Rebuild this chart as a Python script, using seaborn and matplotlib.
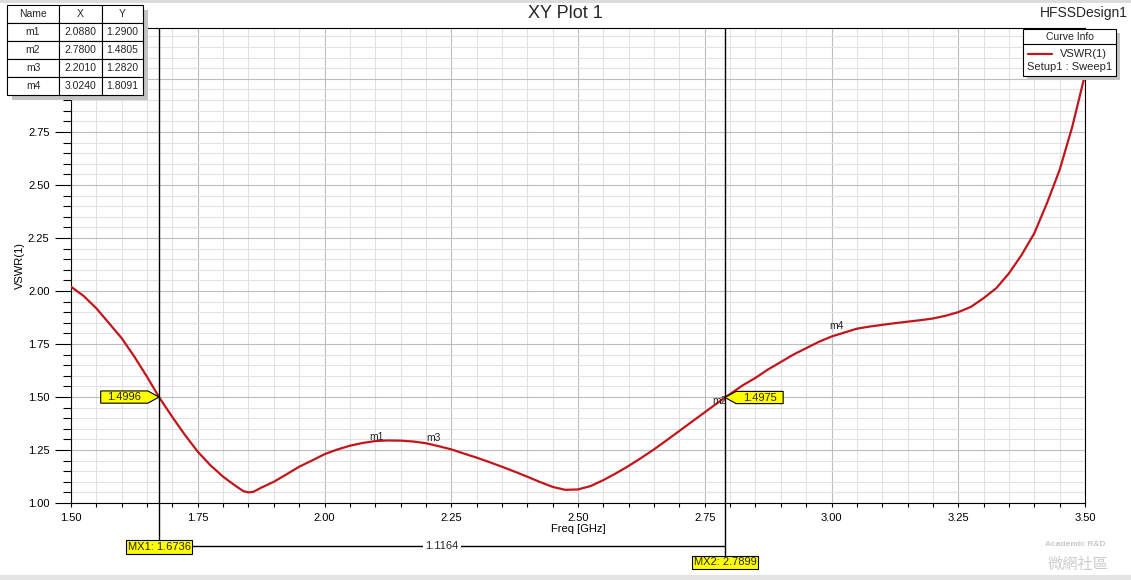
import matplotlib
matplotlib.use("Agg")
import matplotlib.pyplot as plt
import pandas as pd
import seaborn as sns
from matplotlib.path import Path
from matplotlib.patches import Rectangle
from matplotlib.lines import Line2D
from matplotlib.ticker import MultipleLocator, FormatStrFormatter

# curve
freq = [1.50, 1.525, 1.55, 1.575, 1.60, 1.625, 1.65, 1.6736, 1.70, 1.725, 1.75,
        1.775, 1.80, 1.825, 1.84, 1.85, 1.86, 1.875, 1.90, 1.925, 1.95, 1.975,
        2.00, 2.025, 2.05, 2.075, 2.10, 2.125, 2.15, 2.175, 2.20, 2.225, 2.25,
        2.275, 2.30, 2.325, 2.35, 2.375, 2.40, 2.425, 2.45, 2.475, 2.50, 2.525,
        2.55, 2.575, 2.60, 2.625, 2.65, 2.675, 2.70, 2.725, 2.75, 2.7899, 2.825,
        2.85, 2.875, 2.90, 2.925, 2.95, 2.975, 3.00, 3.05, 3.075, 3.10, 3.125,
        3.15, 3.175, 3.20, 3.225, 3.25, 3.275, 3.30, 3.325, 3.35, 3.375, 3.40,
        3.425, 3.45, 3.475, 3.50]
vswr = [2.02, 1.976, 1.918, 1.848, 1.777, 1.69, 1.595, 1.4996, 1.405, 1.32, 1.242,
        1.178, 1.124, 1.08, 1.056, 1.05, 1.053, 1.072, 1.10, 1.135, 1.171, 1.20,
        1.23, 1.252, 1.27, 1.283, 1.292, 1.295, 1.294, 1.29, 1.282, 1.268, 1.253,
        1.233, 1.214, 1.193, 1.171, 1.148, 1.124, 1.099, 1.076, 1.062, 1.064, 1.08,
        1.108, 1.14, 1.175, 1.213, 1.253, 1.296, 1.34, 1.384, 1.428, 1.4975, 1.555,
        1.59, 1.63, 1.665, 1.70, 1.73, 1.76, 1.785, 1.822, 1.832, 1.84, 1.848,
        1.855, 1.862, 1.87, 1.883, 1.90, 1.925, 1.966, 2.013, 2.083, 2.17, 2.272,
        2.414, 2.571, 2.775, 3.02]

marker_names = ["m1", "m2", "m3", "m4"]
marker_x = [2.0880, 2.7800, 2.2010, 3.0240]
marker_y = [1.2900, 1.4805, 1.2820, 1.8091]

mx_names = ["MX1", "MX2"]
mx_x = [1.6736, 2.7899]
mx_y = [1.4996, 1.4975]
mx_delta = 1.1164

sns.set_theme(style="white")
plt.rcParams["font.family"] = ["Liberation Sans", "DejaVu Sans"]

df = pd.DataFrame({"Freq [GHz]": freq, "VSWR(1)": vswr})

W, H = 1131, 580
def fx(px):
    return px / W
def fy(py):
    return 1 - py / H

fig = plt.figure(figsize=(W / 100, H / 100), dpi=100)
fig.patch.set_facecolor("white")
ax = fig.add_axes([fx(71), fy(503), 1014 / W, 475 / H])

sns.lineplot(data=df, x="Freq [GHz]", y="VSWR(1)", ax=ax, color="#c0161c",
             lw=1.6, legend=False, zorder=4)

ax.set_xlim(1.5, 3.5)
ax.set_ylim(1.0, 3.24)
ax.xaxis.set_major_locator(MultipleLocator(0.25))
ax.xaxis.set_minor_locator(MultipleLocator(0.05))
ax.yaxis.set_major_locator(MultipleLocator(0.25))
ax.yaxis.set_minor_locator(MultipleLocator(0.05))
ax.xaxis.set_major_formatter(FormatStrFormatter("%.2f"))
ax.yaxis.set_major_formatter(FormatStrFormatter("%.2f"))
ax.grid(which="major", color="#bdbdbd", lw=0.8)
ax.grid(which="minor", color="#e2e2e2", lw=0.8)
ax.set_axisbelow(True)
for s in ax.spines.values():
    s.set_color("black")
    s.set_linewidth(0.8)

ax.tick_params(axis="y", which="major", left=True, length=11.5, width=0.8,
               pad=4, labelsize=8, color="black", labelcolor="black")
ax.tick_params(axis="y", which="minor", left=True, length=5.8, width=0.8, color="black")
ax.tick_params(axis="x", which="both", bottom=True, length=3, width=0.8,
               pad=4, labelsize=8, color="black", labelcolor="black")

ax.set_xlabel("Freq [GHz]", fontsize=8, color="black")
ax.xaxis.set_label_coords(0.5, -0.045)
ax.set_ylabel("VSWR(1)", fontsize=8, color="black")
ax.yaxis.set_label_coords(-0.045, 0.5)

# marker labels on the curve
marker_align = {"m1": ("left", "bottom"), "m2": ("center", "center"),
                "m3": ("left", "bottom"), "m4": ("right", "bottom")}
for n, x, y in zip(marker_names, marker_x, marker_y):
    ha, va = marker_align[n]
    ax.text(x, y, n, fontsize=7.5, ha=ha, va=va, color="#202020", zorder=5)

# marker table
tab = ax.table(cellText=[[n, f"{x:.4f}", f"{y:.4f}"]
                         for n, x, y in zip(marker_names, marker_x, marker_y)],
               colLabels=["Name", "X", "Y"], cellLoc="center",
               colWidths=[52, 43, 41],
               bbox=[(7 - 71) / 1014, (503 - 95) / 475, 136 / 1014, 90 / 475],
               zorder=10)
tab.auto_set_font_size(False)
tab.set_fontsize(7.5)
for c in tab.get_celld().values():
    c.set_edgecolor("black")
    c.set_linewidth(0.8)
    c.set_facecolor("white")
ax.add_patch(Rectangle((fx(12), fy(100)), 136 / W, 90 / H, transform=fig.transFigure,
                       fc="#c4c4c4", ec="none", clip_on=False, zorder=9))


def tag_right(x0, y0, width, height, mutation_size):
    px, py = 0.6 * mutation_size, 0.1 * mutation_size
    l, r, b, t = x0 - px, x0 + width + px, y0 - py, y0 + height + py
    tip = 1.0 * mutation_size
    return Path([(l, b), (r, b), (r + tip, (b + t) / 2), (r, t), (l, t), (l, b)], closed=True)


def tag_left(x0, y0, width, height, mutation_size):
    px, py = 0.6 * mutation_size, 0.1 * mutation_size
    l, r, b, t = x0 - px, x0 + width + px, y0 - py, y0 + height + py
    tip = 1.0 * mutation_size
    return Path([(l, b), (r, b), (r, t), (l, t), (l - tip, (b + t) / 2), (l, b)], closed=True)


xt = ax.get_xaxis_transform()
line_bottom = [-0.0758, -0.109]
label_y = [-0.0926, -0.125]
for i, (n, x, y) in enumerate(zip(mx_names, mx_x, mx_y)):
    ax.plot([x, x], [1, line_bottom[i]], transform=xt, color="black", lw=1,
            clip_on=False, zorder=5)
    ax.text(x, label_y[i], f"{n}: {x:.4f}", transform=xt, ha="center", va="center",
            fontsize=8, clip_on=False, zorder=7,
            bbox=dict(boxstyle="square,pad=0.15", fc="#ffff00", ec="black", lw=0.8))
    if i == 0:
        ax.annotate(f"{y:.4f}", xy=(x, y), xytext=(-12.8, 0), textcoords="offset points",
                    ha="right", va="center", fontsize=8, zorder=7,
                    bbox=dict(boxstyle=tag_right, fc="#ffff00", ec="black", lw=0.8))
    else:
        ax.annotate(f"{y:.4f}", xy=(x, y), xytext=(12.8, 0), textcoords="offset points",
                    ha="left", va="center", fontsize=8, zorder=7,
                    bbox=dict(boxstyle=tag_left, fc="#ffff00", ec="black", lw=0.8))

ax.plot([mx_x[0], mx_x[1]], [-0.0905, -0.0905], transform=xt, color="black", lw=1,
        clip_on=False, zorder=5)
ax.text((mx_x[0] + mx_x[1]) / 2, -0.0905, f"{mx_delta:.4f}", transform=xt,
        ha="center", va="center", fontsize=8, clip_on=False, zorder=6,
        bbox=dict(boxstyle="square,pad=0.2", fc="white", ec="none"))

# curve info box
fig.add_artist(Rectangle((fx(1027), fy(80)), 93 / W, 47 / H, transform=fig.transFigure,
                         fc="#c4c4c4", ec="none", zorder=2))
fig.add_artist(Rectangle((fx(1023), fy(76)), 93 / W, 47 / H, transform=fig.transFigure,
                         fc="white", ec="black", lw=0.8, zorder=3))
fig.add_artist(Line2D([fx(1023), fx(1116)], [fy(44), fy(44)], transform=fig.transFigure,
                      color="black", lw=0.8, zorder=4))
fig.text(fx(1069.5), fy(36.5), "Curve Info", fontsize=7.5, ha="center", va="center", zorder=5)
fig.add_artist(Line2D([fx(1028), fx(1052)], [fy(54), fy(54)], transform=fig.transFigure,
                      color="#c0161c", lw=1.6, zorder=5))
fig.text(fx(1060), fy(54), "VSWR(1)", fontsize=8, ha="left", va="center", zorder=5)
fig.text(fx(1069.5), fy(67), "Setup1 : Sweep1", fontsize=8, ha="center", va="center", zorder=5)

# titles
fig.text(0.5, fy(13.5), "XY Plot 1", fontsize=13, ha="center", va="center")
fig.text(fx(1128), fy(12.5), "HFSSDesign1", fontsize=10, ha="right", va="center")

# window bands and watermark
fig.add_artist(Rectangle((0, fy(3)), 1, 3 / H, transform=fig.transFigure,
                         fc="#dcdcdc", ec="none", zorder=1))
fig.add_artist(Rectangle((0, 0), 1, 5 / H, transform=fig.transFigure,
                         fc="#e4e4e4", ec="none", zorder=1))
fig.text(fx(1075), fy(545), "Academic R&D", fontsize=6, color="#c8c8c8",
         ha="center", va="center", fontweight="bold")
fig.text(fx(1078), fy(564), "微網社區", fontsize=11, color="#cccccc", ha="center",
         va="center", family=["Noto Sans CJK TC", "DejaVu Sans"])

fig.savefig("out.png", dpi=100)
